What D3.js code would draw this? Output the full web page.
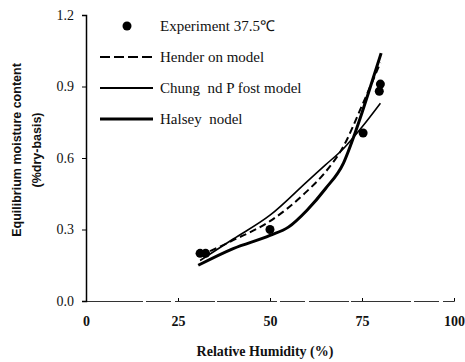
<!DOCTYPE html>
<html>
<head>
<meta charset="utf-8">
<script src="https://cdn.jsdelivr.net/npm/d3@7"></script>
<style>
  body { margin: 0; background: #fff; }
  text { fill: #111; }
</style>
</head>
<body>
<div id="chart"></div>
<script>
// Data
const expRH = [31, 32.5, 50, 75.3, 80, 79.7];
const expEMC = [0.20, 0.20, 0.30, 0.705, 0.91, 0.88];

const hendRH = [31, 40, 50, 60, 65, 70, 75, 80];
const hendEMC = [0.19, 0.255, 0.335, 0.46, 0.54, 0.65, 0.82, 1.0];

const chungRH = [31, 40, 50, 60, 65, 70, 75, 80];
const chungEMC = [0.17, 0.26, 0.36, 0.50, 0.57, 0.64, 0.73, 0.83];

const halseyRH = [30.5, 40, 50, 55, 60, 65, 70, 73, 75, 77, 80.2];
const halseyEMC = [0.15, 0.22, 0.275, 0.31, 0.38, 0.47, 0.58, 0.70, 0.79, 0.885, 1.04];

const xTicks = [0, 25, 50, 75, 100];
const yTicks = [0, 0.3, 0.6, 0.9, 1.2];

const legendLabels = ["Experiment 37.5\u2103", "Hender on model", "Chung  nd P fost model", "Halsey  nodel"];

// Plot constants
const MARGIN = { LEFT: 86, RIGHT: 11, TOP: 15, BOTTOM: 61 };
const WIDTH = 465 - MARGIN.LEFT - MARGIN.RIGHT;
const HEIGHT = 362 - MARGIN.TOP - MARGIN.BOTTOM;

const svg = d3.select("#chart")
  .append("svg")
  .attr("width", 465)
  .attr("height", 362);

const g = svg.append("g")
  .attr("transform", "translate(" + MARGIN.LEFT + "," + MARGIN.TOP + ")");

const x = d3.scaleLinear().domain([0, 100]).range([0, WIDTH]);
const y = d3.scaleLinear().domain([0, 1.2]).range([HEIGHT, 0]);

// Axes
const xAxis = g.append("g")
  .attr("transform", "translate(0," + HEIGHT + ")")
  .call(d3.axisBottom(x).tickValues(xTicks).tickSize(-3).tickPadding(15).tickFormat(d3.format("d")));
xAxis.select(".domain").attr("stroke", "#333").attr("stroke-dasharray", "60,3,25,4,40,2");
xAxis.selectAll("text")
  .style("font-family", "Liberation Serif")
  .style("font-weight", "bold")
  .style("font-size", "14px");

const yAxis = g.append("g")
  .call(d3.axisLeft(y).tickValues(yTicks).tickSize(4).tickPadding(8).tickFormat(d3.format(".1f")));
yAxis.select(".domain").attr("stroke-width", 1.5);
yAxis.selectAll("text")
  .style("font-family", "Liberation Serif")
  .style("font-size", "14px");

// Axis titles
svg.append("text")
  .attr("x", MARGIN.LEFT + WIDTH / 2 - 5)
  .attr("y", 356)
  .attr("text-anchor", "middle")
  .style("font-family", "Liberation Serif")
  .style("font-weight", "bold")
  .style("font-size", "14px")
  .text("Relative Humidity (%)");

const yTitle = svg.append("text")
  .attr("transform", "translate(21,150)rotate(-90)")
  .attr("text-anchor", "middle")
  .style("font-family", "Liberation Sans")
  .style("font-weight", "bold")
  .style("font-size", "12.5px");
yTitle.append("tspan").attr("x", 0).attr("y", 0).text("Equilibrium moisture content");
yTitle.append("tspan").attr("x", 0).attr("y", 20).text("(%dry-basis)");

// Lines
const line = d3.line()
  .x((d) => x(d[0]))
  .y((d) => y(d[1]))
  .curve(d3.curveMonotoneX);

const series = [
  { rh: hendRH, emc: hendEMC, width: 2, dash: "7,4" },
  { rh: chungRH, emc: chungEMC, width: 1.6, dash: null },
  { rh: halseyRH, emc: halseyEMC, width: 3, dash: null }
];

series.forEach((s) => {
  g.append("path")
    .datum(d3.zip(s.rh, s.emc))
    .attr("fill", "none")
    .attr("stroke", "#000")
    .attr("stroke-width", s.width)
    .attr("stroke-dasharray", s.dash)
    .attr("d", line);
});

// Experimental points
g.selectAll(".point")
  .data(d3.zip(expRH, expEMC))
  .enter().append("circle")
  .attr("class", "point")
  .attr("cx", (d) => x(d[0]))
  .attr("cy", (d) => y(d[1]))
  .attr("r", 4.5)
  .attr("fill", "#000");

// Legend
const legend = svg.append("g");
const legendY = [26, 57, 88, 119];

legend.append("circle")
  .attr("cx", 127).attr("cy", legendY[0]).attr("r", 4.5).attr("fill", "#000");

[
  { dash: "10,4", width: 2 },
  { dash: null, width: 2 },
  { dash: null, width: 3 }
].forEach((s, i) => {
  legend.append("line")
    .attr("x1", 100).attr("x2", 153)
    .attr("y1", legendY[i + 1]).attr("y2", legendY[i + 1])
    .attr("stroke", "#000")
    .attr("stroke-width", s.width)
    .attr("stroke-dasharray", s.dash);
});

legendLabels.forEach((t, i) => {
  legend.append("text")
    .attr("x", 160)
    .attr("y", legendY[i] + 5)
    .style("font-family", "Liberation Serif")
    .style("font-size", "15px")
    .style("white-space", "pre")
    .text(t);
});
</script>
</body>
</html>
